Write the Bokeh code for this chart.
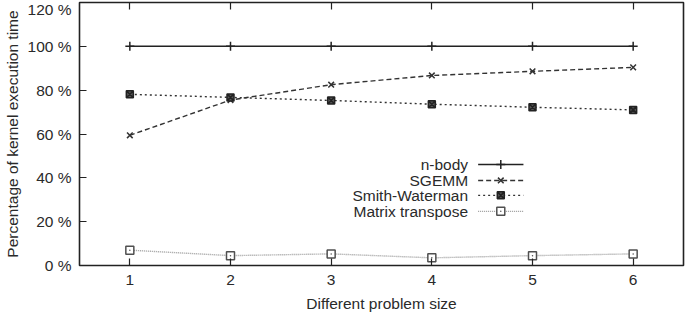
from bokeh.plotting import figure
from bokeh.models import LinearAxis, FixedTicker, Range1d
from bokeh.core.properties import value
from bokeh.embed import file_html
from bokeh.resources import INLINE

# Kernel execution time share per problem size
sizes = [1, 2, 3, 4, 5, 6]
nbody = [100, 100, 100, 100, 100, 100]
sgemm = [59.4, 75.5, 82.5, 86.7, 88.6, 90.4]
smith_waterman = [78.1, 76.7, 75.3, 73.6, 72.2, 71.0]
matrix_transpose = [7.0, 4.5, 5.3, 3.5, 4.5, 5.3]

series_names = ["n-body", "SGEMM", "Smith-Waterman", "Matrix transpose"]
x_ticks = [1, 2, 3, 4, 5, 6]
y_ticks = [0, 20, 40, 60, 80, 100, 120]
y_tick_labels = ["0 %", "20 %", "40 %", "60 %", "80 %", "100 %", "120 %"]

FONT = "Liberation Sans"
FS = "15.5px"
TXT = "#2a2a2a"

p = figure(width=696, height=318, output_backend="svg", toolbar_location=None,
           x_range=Range1d(0.5, 6.5), y_range=Range1d(0, 120),
           min_border_left=78, min_border_right=13, min_border_top=2,
           min_border_bottom=53, background_fill_color="white",
           border_fill_color="white")
p.grid.visible = False
p.outline_line_color = "#222222"
p.outline_line_width = 1.6

for ax in (p.xaxis[0], p.yaxis[0]):
    ax.axis_line_color = None
    ax.major_tick_in = 7
    ax.major_tick_out = 0
    ax.minor_tick_line_color = None
    ax.major_tick_line_color = "#222222"
    ax.major_tick_line_width = 1.2
    ax.major_label_text_font = FONT
    ax.major_label_text_font_size = FS
    ax.major_label_text_color = TXT
    ax.axis_label_text_font = FONT
    ax.axis_label_text_font_size = FS
    ax.axis_label_text_font_style = "normal"
    ax.axis_label_text_color = TXT

p.xaxis.ticker = FixedTicker(ticks=x_ticks)
p.yaxis.ticker = FixedTicker(ticks=y_ticks)
p.yaxis.major_label_overrides = dict(zip(y_ticks, y_tick_labels))
p.xaxis.axis_label = "Different problem size"
p.yaxis.axis_label = "Percentage of kernel execution time"
p.xaxis.major_label_standoff = 9
p.xaxis.axis_label_standoff = 7
p.yaxis.major_label_standoff = 8
p.yaxis.axis_label_standoff = 4

# mirrored tick marks along the top border (no labels)
top = LinearAxis(ticker=FixedTicker(ticks=x_ticks), axis_line_color=None,
                 major_tick_in=7, major_tick_out=0, minor_tick_line_color=None,
                 major_tick_line_color="#222222", major_tick_line_width=1.2,
                 major_label_overrides={t: "" for t in x_ticks},
                 major_label_standoff=0)
p.add_layout(top, "above")

styles = [
    dict(color="#222222", dash="solid", width=1.5, marker="cross", size=9, lw=1.5),
    dict(color="#333333", dash="5 3", width=1.4, marker="x", size=8, lw=1.5),
    dict(color="#333333", dash="2 3", width=1.4, marker="square_x", size=7, lw=1.5),
    dict(color="#9a9a9a", dash="1 1", width=1.4, marker="square", size=8, lw=1.5),
]
series = [nbody, sgemm, smith_waterman, matrix_transpose]


def draw_marker(xs, ys, st):
    if st["marker"] == "square_x":
        p.scatter(xs, ys, marker="square_x", size=st["size"],
                  line_color="#222222", fill_color="#555555", line_width=st["lw"])
    elif st["marker"] == "square":
        p.scatter(xs, ys, marker="square", size=st["size"],
                  line_color="#505050", fill_color="white", line_width=st["lw"])
        p.scatter(xs, ys, marker="dot", size=6, line_color="#505050")
    else:
        p.scatter(xs, ys, marker=st["marker"], size=st["size"],
                  line_color=st["color"], line_width=st["lw"])


for vals, st in zip(series, styles):
    p.line(sizes, vals, line_color=st["color"], line_dash=st["dash"],
           line_width=st["width"])
    draw_marker(sizes, vals, st)

# key: label on the left, line sample with marker on the right
key_text_x = 4.36
key_line_x0, key_line_x1 = 4.46, 4.91
key_rows = [46.1, 38.8, 32.0, 24.7]
for name, st, ky in zip(series_names, styles, key_rows):
    p.text(x=[key_text_x], y=[ky], text=[name], text_align="right",
           text_baseline="middle", text_font=value(FONT), text_font_size=FS,
           text_color=TXT)
    p.line([key_line_x0, key_line_x1], [ky, ky], line_color=st["color"],
           line_dash=st["dash"], line_width=st["width"])
    draw_marker([(key_line_x0 + key_line_x1) / 2], [ky], st)

open("out.html", "w").write(file_html(p, INLINE))
